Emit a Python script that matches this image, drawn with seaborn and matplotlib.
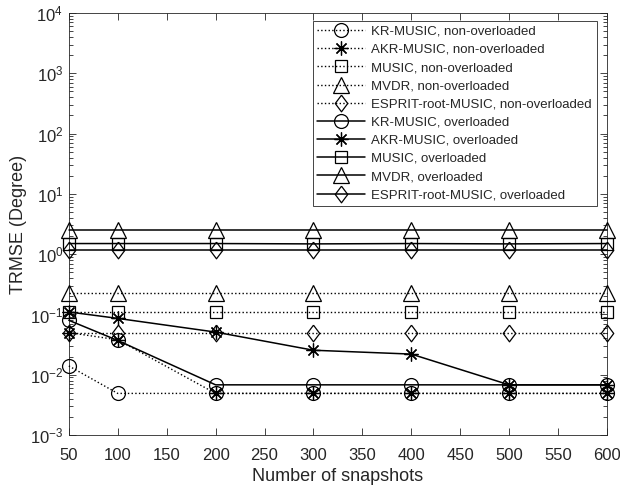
import matplotlib
matplotlib.use("Agg")
import matplotlib.pyplot as plt
import seaborn as sns
import numpy as np
from matplotlib.ticker import LogLocator, FixedLocator, NullFormatter

snapshots = [50, 100, 200, 300, 400, 500, 600]

# non-overloaded
kr_non = [0.014, 0.0049, 0.0049, 0.0049, 0.0049, 0.0049, 0.0049]
akr_non = [0.05, 0.038, 0.0049, 0.0049, 0.0049, 0.0049, 0.0049]
music_non = [0.11, 0.11, 0.11, 0.11, 0.11, 0.11, 0.11]
mvdr_non = [0.23, 0.23, 0.23, 0.23, 0.23, 0.23, 0.23]
esprit_non = [0.05, 0.05, 0.05, 0.05, 0.05, 0.05, 0.05]

# overloaded
kr_over = [0.08, 0.037, 0.0068, 0.0068, 0.0068, 0.0068, 0.0068]
akr_over = [0.11, 0.086, 0.051, 0.0255, 0.022, 0.0068, 0.0068]
music_over = [1.5, 1.5, 1.5, 1.48, 1.5, 1.48, 1.5]
mvdr_over = [2.5, 2.5, 2.5, 2.5, 2.5, 2.5, 2.5]
esprit_over = [1.18, 1.18, 1.18, 1.18, 1.18, 1.18, 1.18]

labels = [
    "KR-MUSIC, non-overloaded",
    "AKR-MUSIC, non-overloaded",
    "MUSIC, non-overloaded",
    "MVDR, non-overloaded",
    "ESPRIT-root-MUSIC, non-overloaded",
    "KR-MUSIC, overloaded",
    "AKR-MUSIC, overloaded",
    "MUSIC, overloaded",
    "MVDR, overloaded",
    "ESPRIT-root-MUSIC, overloaded",
]
series = [kr_non, akr_non, music_non, mvdr_non, esprit_non,
          kr_over, akr_over, music_over, mvdr_over, esprit_over]

sns.set_style("ticks")
plt.rcParams['font.family'] = ['Liberation Sans', 'DejaVu Sans']
plt.rcParams['mathtext.fontset'] = 'custom'
plt.rcParams['mathtext.rm'] = 'Liberation Sans'
plt.rcParams['mathtext.it'] = 'Liberation Sans'

fig = plt.figure(figsize=(6.2, 4.91), dpi=100)
ax = fig.add_axes([0.111, 0.114, 0.868, 0.8595])

diamond = [(0, 1), (0.75, 0), (0, -1), (-0.75, 0), (0, 1)]
markers = ['o', (8, 2, 0), 's', '^', diamond]
msizes = [10, 10, 8, 12, 12]
for i, (lab, ys) in enumerate(zip(labels, series)):
    m = markers[i % 5]
    ms = msizes[i % 5]
    ls = ':' if i < 5 else '-'
    sns.lineplot(x=snapshots, y=ys, ax=ax, color='black', linestyle=ls,
                 linewidth=1.0 if i < 5 else 1.1, marker=m, markersize=ms,
                 markerfacecolor='none', markeredgecolor='black',
                 markeredgewidth=0.9, label=lab, legend=True, clip_on=False)

ax.set_yscale('log')
ax.set_ylim(1e-3, 1e4)
ax.set_xlim(50, 600)
ax.set_xticks(np.arange(50, 601, 50))
ax.yaxis.set_major_locator(FixedLocator([10.0**k for k in range(-3, 5)]))
ax.set_yticklabels([r'$10^{%d}$' % k for k in range(-3, 5)])
ax.yaxis.set_minor_locator(LogLocator(base=10, subs=np.arange(2, 10), numticks=20))
ax.yaxis.set_minor_formatter(NullFormatter())

textc = '#262626'
ax.tick_params(axis='both', which='both', direction='in', top=True, right=True,
               colors='#262626', labelcolor=textc, labelsize=12, width=0.6)
ax.tick_params(axis='both', which='major', length=5)
ax.tick_params(axis='x', which='major', pad=9)
ax.tick_params(axis='y', which='major', pad=4)
ax.tick_params(axis='y', which='minor', length=3)
for s in ax.spines.values():
    s.set_color('#262626')
    s.set_linewidth(0.6)
    s.set_zorder(0.5)

ax.set_xlabel('Number of snapshots', fontsize=13, color=textc, labelpad=4)
ax.set_ylabel('TRMSE (Degree)', fontsize=13, color=textc, labelpad=2)

leg = ax.legend(loc='upper right', fontsize=9.5, frameon=True, fancybox=False,
                edgecolor='#262626', handlelength=3.6, handletextpad=0.5,
                labelspacing=0.45, borderpad=0.35, bbox_to_anchor=(0.993, 0.997),
                framealpha=1)
leg.get_frame().set_linewidth(0.6)
for t in leg.get_texts():
    t.set_color(textc)

fig.savefig('out.png', dpi=100)
